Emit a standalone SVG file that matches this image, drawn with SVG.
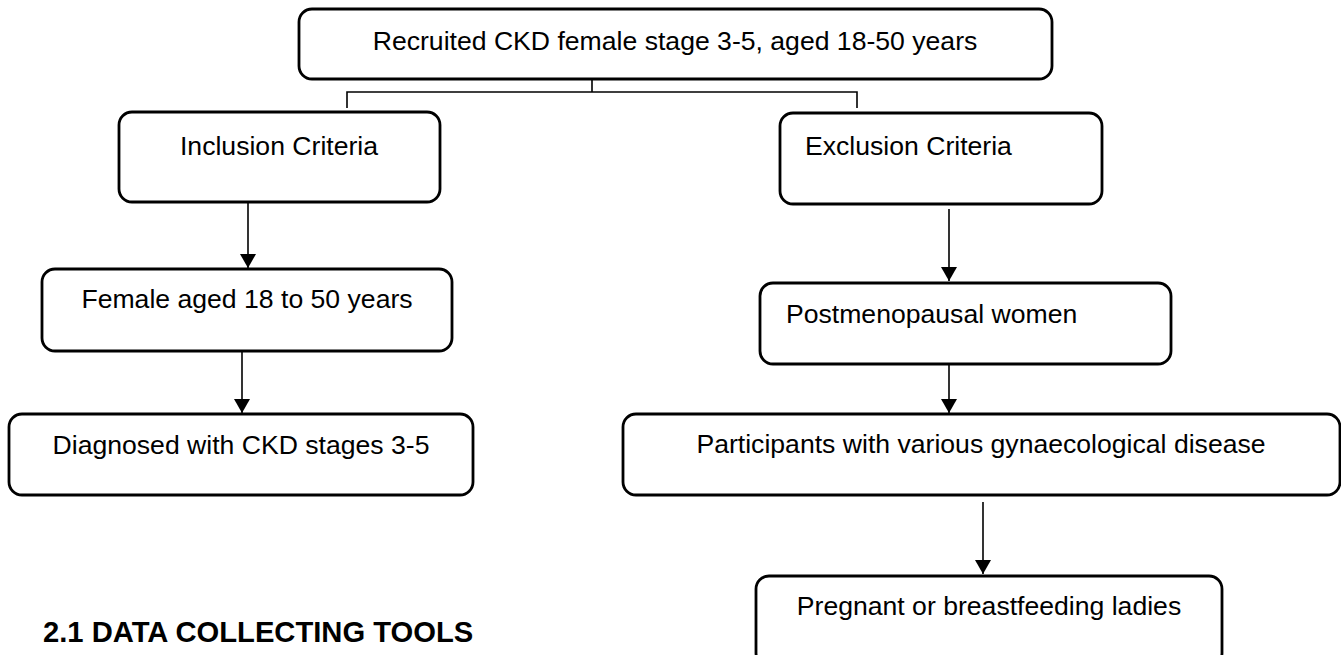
<svg xmlns="http://www.w3.org/2000/svg" width="1341" height="655" viewBox="0 0 1341 655">
<style>
.box{fill:#fff;stroke:#000;stroke-width:2.8}
.t{font-family:"Liberation Sans",Arial,sans-serif;font-size:26.6px;fill:#000}
.c{text-anchor:middle}
.ln{fill:none;stroke:#000;stroke-width:1.6}
.h{font-family:"Liberation Sans",Arial,sans-serif;font-size:29.2px;font-weight:bold;fill:#000}
</style>
<defs>
<marker id="ah" viewBox="0 0 14 16" refX="14" refY="8" markerWidth="14" markerHeight="16" markerUnits="userSpaceOnUse" orient="auto">
<path d="M0,0 L14,8 L0,16 Z" fill="#000"/>
</marker>
</defs>
<rect width="1341" height="655" fill="#fff"/>
<g id="connectors">
<path class="ln" d="M592,79 V92 M347,108 V92 H857 V108"/>
<line class="ln" x1="248" y1="201" x2="248" y2="268" marker-end="url(#ah)"/>
<line class="ln" x1="242" y1="340" x2="242" y2="413" marker-end="url(#ah)"/>
<line class="ln" x1="949" y1="209" x2="949" y2="281" marker-end="url(#ah)"/>
<line class="ln" x1="949" y1="364" x2="949" y2="413" marker-end="url(#ah)"/>
<line class="ln" x1="983" y1="502" x2="983" y2="574" marker-end="url(#ah)"/>
</g>
<g id="n-recruited">
<rect class="box" x="299" y="9" width="753" height="70" rx="13"/>
<text class="t c" x="675" y="50">Recruited CKD female stage 3-5, aged 18-50 years</text>
</g>
<g id="n-inclusion">
<rect class="box" x="119" y="112" width="321" height="90" rx="13"/>
<text class="t c" x="279" y="155">Inclusion Criteria</text>
</g>
<g id="n-exclusion">
<rect class="box" x="780" y="113" width="322" height="91" rx="13"/>
<text class="t" x="805" y="155">Exclusion Criteria</text>
</g>
<g id="n-female">
<rect class="box" x="42" y="269" width="410" height="82" rx="13"/>
<text class="t c" x="247" y="308">Female aged 18 to 50 years</text>
</g>
<g id="n-diagnosed">
<rect class="box" x="9" y="414" width="464" height="81" rx="13"/>
<text class="t c" x="241" y="454">Diagnosed with CKD stages 3-5</text>
</g>
<g id="n-postmeno">
<rect class="box" x="760" y="283" width="411" height="81" rx="13"/>
<text class="t" x="786" y="323">Postmenopausal women</text>
</g>
<g id="n-participants">
<rect class="box" x="623" y="414" width="717" height="81" rx="13"/>
<text class="t c" x="981" y="453">Participants with various gynaecological disease</text>
</g>
<g id="n-pregnant">
<rect class="box" x="756" y="576" width="466" height="90" rx="13"/>
<text class="t c" x="989" y="615">Pregnant or breastfeeding ladies</text>
</g>
<text class="h" x="43" y="642">2.1 DATA COLLECTING TOOLS</text>
</svg>
